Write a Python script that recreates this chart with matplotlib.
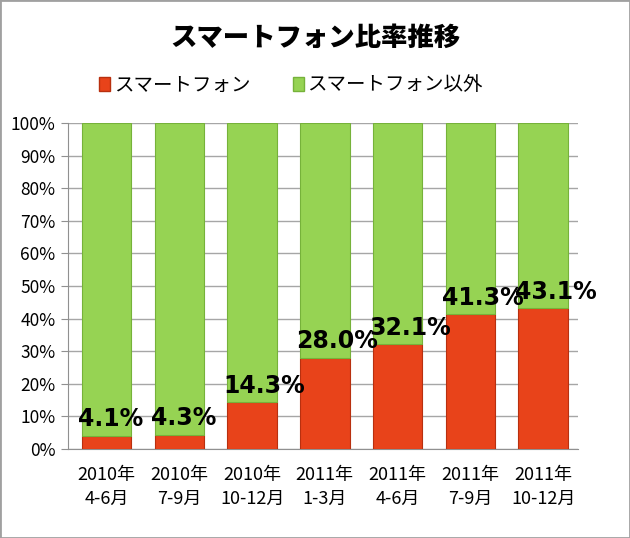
import matplotlib
matplotlib.use('Agg')
import matplotlib.pyplot as plt
from matplotlib.patches import Rectangle, Patch
import numpy as np

plt.rcParams['font.family'] = ['Noto Sans CJK JP', 'DejaVu Sans']

# データ
periods = ['2010年\n4-6月', '2010年\n7-9月', '2010年\n10-12月', '2011年\n1-3月',
           '2011年\n4-6月', '2011年\n7-9月', '2011年\n10-12月']
smartphone = [4.1, 4.3, 14.3, 28.0, 32.1, 41.3, 43.1]
other = [100 - v for v in smartphone]
series_names = ['スマートフォン', 'スマートフォン以外']

orange = '#E8431A'
green = '#96D353'

fig = plt.figure(figsize=(6.3, 5.38), dpi=100)
ax = fig.add_axes([68 / 630, 89 / 538, 510 / 630, 326 / 538])

x = np.arange(len(periods))
w = 0.68
ax.bar(x, smartphone, width=w, color=orange, edgecolor='#B8300F', linewidth=0.8, zorder=3)
ax.bar(x, other, width=w, bottom=smartphone, color=green, edgecolor='#76B23A',
       linewidth=0.8, zorder=3)

# 値ラベル
for xi, v in zip(x, smartphone):
    ax.text(xi - w / 2 - 0.05, v + 3.0, f'{v:.1f}%', ha='left', va='baseline',
            fontsize=17, fontweight='heavy', family='DejaVu Sans', color='black', zorder=5)

ax.set_xlim(-0.53, 6.48)
ax.set_ylim(0, 100)
ax.set_yticks(np.arange(0, 101, 10))
ax.set_yticklabels([f'{t}%' for t in range(0, 101, 10)], fontsize=12.5)
ax.set_xticks(x)
ax.set_xticklabels(periods, fontsize=13, linespacing=1.45)
ax.tick_params(axis='x', length=0, pad=12)
ax.tick_params(axis='y', length=5, color='#909090', pad=4)
ax.grid(axis='y', color='#A6A6A6', linewidth=1, zorder=0)
for s in ['top', 'right']:
    ax.spines[s].set_visible(False)
for s in ['left', 'bottom']:
    ax.spines[s].set_color('#909090')

fig.text(0.5, 1 - 38 / 538, 'スマートフォン比率推移', ha='center', va='center',
         fontsize=19, fontweight='heavy')

handles = [Patch(facecolor=orange, edgecolor='#B8300F'),
           Patch(facecolor=green, edgecolor='#76B23A')]
fig.legend(handles, series_names, loc='center', bbox_to_anchor=(291 / 630, 1 - 85 / 538),
           ncol=2, frameon=False, fontsize=14, handlelength=0.55, handleheight=0.7,
           handletextpad=0.2, columnspacing=2.2)

fig.patches.append(Rectangle((0, 0), 1, 1, transform=fig.transFigure, fill=False,
                             edgecolor='#A0A0A0', linewidth=2))

fig.savefig('out.png', dpi=100)
